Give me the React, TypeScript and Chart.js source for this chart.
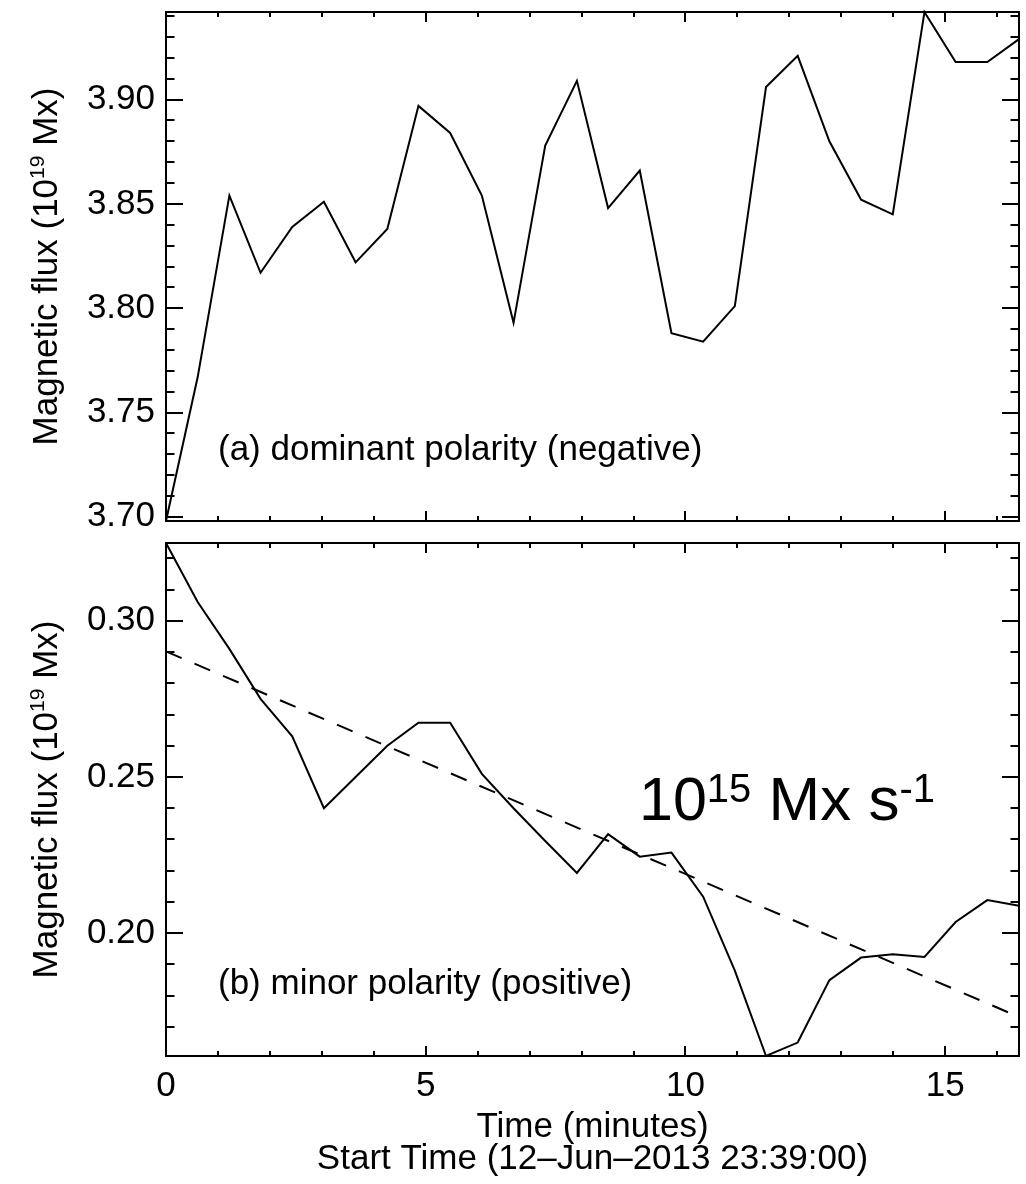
import React, { useEffect, useRef } from "react";
import { Chart, registerables } from "chart.js";

Chart.register(...registerables);

// ---- data ----
const times = [0, 0.61, 1.22, 1.82, 2.43, 3.04, 3.65, 4.26, 4.86, 5.47, 6.08, 6.69, 7.3, 7.91, 8.51, 9.12, 9.73, 10.34, 10.95, 11.55, 12.16, 12.77, 13.38, 13.99, 14.6, 15.2, 15.81, 16.42];
const dominantFlux = [3.698, 3.767, 3.854, 3.817, 3.839, 3.851, 3.822, 3.838, 3.897, 3.884, 3.854, 3.793, 3.878, 3.909, 3.848, 3.866, 3.788, 3.784, 3.801, 3.906, 3.921, 3.88, 3.852, 3.845, 3.942, 3.918, 3.918, 3.929];
const minorFlux = [0.3249, 0.306, 0.291, 0.275, 0.263, 0.24, 0.25, 0.26, 0.2674, 0.2674, 0.251, 0.24, 0.2295, 0.2193, 0.2317, 0.2245, 0.2258, 0.2117, 0.188, 0.1607, 0.165, 0.185, 0.1922, 0.1933, 0.1924, 0.2036, 0.2106, 0.2088];
const fitTimes = [0, 16.42];
const fitFlux = [0.2902, 0.1732];

const xTickLabels = [0, 5, 10, 15];
const yTicksTop = [3.7, 3.75, 3.8, 3.85, 3.9];
const yTicksBottom = [0.2, 0.25, 0.3];

const X_MIN = 0;
const X_MAX = 16.42;
const TOP_RANGE = [3.698, 3.942];
const BOTTOM_RANGE = [0.1607, 0.3249];

const FONT = '"Liberation Sans", Arial, Helvetica, sans-serif';

type Part = { text: string; size: number; dy?: number };

function drawRich(ctx: CanvasRenderingContext2D, parts: Part[], x: number, y: number, align: "left" | "center") {
  let total = 0;
  const widths = parts.map((p) => {
    ctx.font = `${p.size}px ${FONT}`;
    const w = ctx.measureText(p.text).width;
    total += w;
    return w;
  });
  let cx = align === "center" ? x - total / 2 : x;
  ctx.textAlign = "left";
  ctx.textBaseline = "alphabetic";
  parts.forEach((p, i) => {
    ctx.font = `${p.size}px ${FONT}`;
    ctx.fillText(p.text, cx, y + (p.dy || 0));
    cx += widths[i];
  });
}

function makeFramePlugin(panel: "top" | "bottom") {
  return {
    id: "frame-" + panel,
    afterDraw(chart: any) {
      const ctx: CanvasRenderingContext2D = chart.ctx;
      const { left, right, top, bottom } = chart.chartArea;
      const xs = chart.scales.x;
      const ys = chart.scales.y;
      ctx.save();
      ctx.strokeStyle = "#000";
      ctx.fillStyle = "#000";
      ctx.lineWidth = 2;
      ctx.beginPath();
      ctx.rect(left, top, right - left, bottom - top);
      ctx.stroke();

      // y ticks (major every 0.05, minor every 0.01)
      const [ymin, ymax] = panel === "top" ? TOP_RANGE : BOTTOM_RANGE;
      const start = Math.ceil(ymin * 100 - 1e-6);
      const end = Math.floor(ymax * 100 + 1e-6);
      ctx.beginPath();
      for (let k = start; k <= end; k++) {
        const v = k / 100;
        const py = Math.round(ys.getPixelForValue(v));
        const len = k % 5 === 0 ? 17 : 8.5;
        ctx.moveTo(left, py);
        ctx.lineTo(left + len, py);
        ctx.moveTo(right, py);
        ctx.lineTo(right - len, py);
      }
      // x ticks (major every 5, minor every 1)
      for (let m = 0; m <= Math.floor(X_MAX); m++) {
        const px = Math.round(xs.getPixelForValue(m));
        const len = m % 5 === 0 ? 10 : 5;
        ctx.moveTo(px, bottom);
        ctx.lineTo(px, bottom - len);
        ctx.moveTo(px, top);
        ctx.lineTo(px, top + len);
      }
      ctx.stroke();

      // y axis title (rotated, with superscript)
      ctx.save();
      ctx.translate(57, (top + bottom) / 2);
      ctx.rotate(-Math.PI / 2);
      drawRich(
        ctx,
        [
          { text: "Magnetic flux (10", size: 35 },
          { text: "19", size: 21, dy: -13 },
          { text: " Mx)", size: 35 },
        ],
        0,
        0,
        "center"
      );
      ctx.restore();

      if (panel === "top") {
        drawRich(ctx, [{ text: "(a) dominant polarity (negative)", size: 35 }], left + 52, top + 448, "left");
      } else {
        drawRich(ctx, [{ text: "(b) minor polarity (positive)", size: 35 }], left + 52, top + 451, "left");
        drawRich(
          ctx,
          [
            { text: "10", size: 61 },
            { text: "15", size: 40, dy: -18 },
            { text: " Mx s", size: 62 },
            { text: "-1", size: 40, dy: -18 },
          ],
          left + 473,
          top + 277,
          "left"
        );
        const cx = (left + right) / 2;
        drawRich(ctx, [{ text: "Time (minutes)", size: 35 }], cx, bottom + 81, "center");
        drawRich(ctx, [{ text: "Start Time (12\u2013Jun\u20132013 23:39:00)", size: 35 }], cx, bottom + 113, "center");
      }
      ctx.restore();
    },
  };
}

function makeConfig(panel: "top" | "bottom"): any {
  const isTop = panel === "top";
  const datasets: any[] = [
    {
      data: times.map((t, i) => ({ x: t, y: isTop ? dominantFlux[i] : minorFlux[i] })),
      borderColor: "#000",
      borderWidth: 2,
      pointRadius: 0,
      tension: 0,
      fill: false,
      clip: false,
    },
  ];
  if (!isTop) {
    datasets.push({
      data: fitTimes.map((t, i) => ({ x: t, y: fitFlux[i] })),
      borderColor: "#000",
      borderWidth: 2,
      borderDash: [17, 14],
      pointRadius: 0,
      tension: 0,
      fill: false,
    });
  }
  const yTicks = isTop ? yTicksTop : yTicksBottom;
  const range = isTop ? TOP_RANGE : BOTTOM_RANGE;
  return {
    type: "line",
    data: { datasets },
    options: {
      responsive: false,
      animation: false,
      devicePixelRatio: 1,
      layout: { padding: isTop ? { top: 12, right: 7, bottom: 11, left: 0 } : { top: 11, right: 7, bottom: 0, left: 0 } },
      plugins: { legend: { display: false }, tooltip: { enabled: false } },
      scales: {
        x: {
          type: "linear",
          min: X_MIN,
          max: X_MAX,
          display: !isTop,
          grid: { display: false, drawTicks: false },
          border: { display: false },
          afterBuildTicks: (axis: any) => {
            axis.ticks = xTickLabels.map((v) => ({ value: v }));
          },
          afterFit: (axis: any) => {
            axis.height = isTop ? 0 : 128;
            axis.paddingLeft = 0;
            axis.paddingRight = 0;
            axis.paddingTop = 0;
            axis.paddingBottom = 0;
          },
          ticks: {
            autoSkip: false,
            maxRotation: 0,
            padding: 9,
            color: "#000",
            font: { family: FONT, size: 35 },
            callback: (v: any) => String(v),
          },
        },
        y: {
          type: "linear",
          min: range[0],
          max: range[1],
          grid: { display: false, drawTicks: false },
          border: { display: false },
          afterBuildTicks: (axis: any) => {
            axis.ticks = yTicks.map((v) => ({ value: v }));
          },
          afterFit: (axis: any) => {
            axis.width = 166;
            axis.paddingTop = 0;
            axis.paddingBottom = 0;
            axis.paddingLeft = 0;
            axis.paddingRight = 0;
          },
          ticks: {
            autoSkip: false,
            padding: 11,
            color: "#000",
            font: { family: FONT, size: 35 },
            callback: (v: any) => Number(v).toFixed(2),
          },
        },
      },
    },
    plugins: [makeFramePlugin(panel)],
  };
}

function Panel({ panel, top, height }: { panel: "top" | "bottom"; top: number; height: number }) {
  const ref = useRef<HTMLCanvasElement | null>(null);
  useEffect(() => {
    if (!ref.current) return;
    const chart = new Chart(ref.current, makeConfig(panel));
    return () => chart.destroy();
  }, [panel]);
  return (
    <canvas
      ref={ref}
      width={1026}
      height={height}
      style={{ position: "absolute", left: 0, top, width: 1026, height }}
    />
  );
}

export default function App() {
  return (
    <div style={{ position: "absolute", left: 0, top: 0, width: 1026, height: 1184, background: "#fff" }}>
      <Panel panel="top" top={0} height={532} />
      <Panel panel="bottom" top={532} height={652} />
    </div>
  );
}
